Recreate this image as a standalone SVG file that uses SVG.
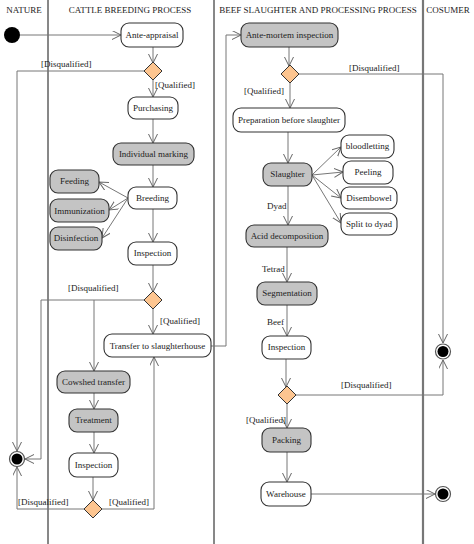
<svg xmlns="http://www.w3.org/2000/svg" width="474" height="544" viewBox="0 0 474 544">
<style>
text{font-family:"Liberation Serif","Times New Roman",serif;font-size:9px;fill:#222}
.hd{text-anchor:middle}
.n rect{stroke:#333;stroke-width:1.1;fill:#fff}
.g rect{fill:#c4c4c4}
.n text{text-anchor:middle}
.d polygon{fill:#fdc590;stroke:#333;stroke-width:1}
.c path{fill:none;stroke:#777;stroke-width:1}
.lane{stroke:#111;stroke-width:1}
</style>
<defs>
<marker id="a" markerUnits="userSpaceOnUse" markerWidth="10" markerHeight="10" refX="9" refY="4.5" orient="auto">
<path d="M0,0 L9,4.5 L0,9" fill="none" stroke="#666" stroke-width="1"/>
</marker>
</defs>
<rect width="474" height="544" fill="#fff"/>
<g id="lanes">
<line class="lane" x1="48" y1="0" x2="48" y2="544"/>
<line class="lane" x1="214" y1="0" x2="214" y2="544"/>
<line x1="423" y1="0" x2="423" y2="544" stroke="#777" stroke-width="2.2"/>
<text class="hd" x="24" y="13">NATURE</text>
<text class="hd" x="130" y="13">CATTLE BREEDING PROCESS</text>
<text class="hd" x="318" y="13">BEEF SLAUGHTER AND PROCESSING PROCESS</text>
<text class="hd" x="448" y="13">COSUMER</text>
</g>
<g id="connectors" class="c">
<path d="M20,35 H121" marker-end="url(#a)"/>
<path d="M153,47 V63" marker-end="url(#a)"/>
<path d="M153,80 V97" marker-end="url(#a)"/>
<path d="M144,71 H17 V451" marker-end="url(#a)"/>
<path d="M153,119 V143" marker-end="url(#a)"/>
<path d="M153,165 V187" marker-end="url(#a)"/>
<path d="M128,198 L99,182" marker-end="url(#a)"/>
<path d="M128,198 L109,210" marker-end="url(#a)"/>
<path d="M128,198 L102,238" marker-end="url(#a)"/>
<path d="M153,209 V242" marker-end="url(#a)"/>
<path d="M153,265 V292" marker-end="url(#a)"/>
<path d="M153,309 V334" marker-end="url(#a)"/>
<path d="M144,300 H41 V459 H25" marker-end="url(#a)"/>
<path d="M94,300 V371" marker-end="url(#a)"/>
<path d="M211,346 H226 V35 H241" marker-end="url(#a)"/>
<path d="M94,393 V409" marker-end="url(#a)"/>
<path d="M94,432 V453" marker-end="url(#a)"/>
<path d="M93,477 V500" marker-end="url(#a)"/>
<path d="M84,509 H17 V467" marker-end="url(#a)"/>
<path d="M102,509 H154 V357" marker-end="url(#a)"/>
<path d="M289,47 V66" marker-end="url(#a)"/>
<path d="M299,74 H443 V343" marker-end="url(#a)"/>
<path d="M290,83 V108" marker-end="url(#a)"/>
<path d="M288,132 V163" marker-end="url(#a)"/>
<path d="M312,175 L341,147" marker-end="url(#a)"/>
<path d="M312,175 L343,172" marker-end="url(#a)"/>
<path d="M312,175 L341,198" marker-end="url(#a)"/>
<path d="M312,175 L341,223" marker-end="url(#a)"/>
<path d="M288,186 V225" marker-end="url(#a)"/>
<path d="M287,247 V282" marker-end="url(#a)"/>
<path d="M287,305 V336" marker-end="url(#a)"/>
<path d="M286,359 V387" marker-end="url(#a)"/>
<path d="M296,395 H443 V360" marker-end="url(#a)"/>
<path d="M287,404 V428" marker-end="url(#a)"/>
<path d="M287,452 V482" marker-end="url(#a)"/>
<path d="M311,494 H435" marker-end="url(#a)"/>
</g>
<g id="labels">
<text x="41" y="67">[Disqualified]</text>
<text x="155" y="88">[Qualified]</text>
<text x="68" y="291">[Disqualified]</text>
<text x="160" y="324">[Qualified]</text>
<text x="18" y="505">[Disqualified]</text>
<text x="109" y="505">[Qualified]</text>
<text x="349" y="71">[Disqualified]</text>
<text x="244" y="94">[Qualified]</text>
<text x="267" y="209">Dyad</text>
<text x="262" y="272">Tetrad</text>
<text x="267" y="325">Beef</text>
<text x="341" y="388">[Disqualified]</text>
<text x="246" y="423">[Qualified]</text>
</g>
<g id="start"><circle cx="12" cy="35" r="8" fill="#000"/></g>
<g id="end-nature"><circle cx="17" cy="459" r="7.5" fill="#fff" stroke="#555" stroke-width="1.2"/><circle cx="17" cy="459" r="5.5" fill="#000"/></g>
<g id="end-consumer1"><circle cx="443" cy="351.5" r="7.5" fill="#fff" stroke="#555" stroke-width="1.2"/><circle cx="443" cy="351.5" r="5.5" fill="#000"/></g>
<g id="end-consumer2"><circle cx="443" cy="494" r="7.5" fill="#fff" stroke="#555" stroke-width="1.2"/><circle cx="443" cy="494" r="5.5" fill="#000"/></g>
<g id="ante-appraisal" class="n"><rect x="121" y="23" width="62" height="24" rx="8"/><text x="152" y="38">Ante-appraisal</text></g>
<g id="d1" class="d"><polygon points="153,62 162,71 153,80 144,71"/></g>
<g id="purchasing" class="n"><rect x="128" y="97" width="50" height="22" rx="8"/><text x="153" y="111">Purchasing</text></g>
<g id="individual-marking" class="n g"><rect x="113" y="143" width="81" height="22" rx="8"/><text x="153.5" y="157">Individual marking</text></g>
<g id="feeding" class="n g"><rect x="50" y="170" width="49" height="23" rx="8"/><text x="74.5" y="184">Feeding</text></g>
<g id="immunization" class="n g"><rect x="50" y="199" width="59" height="23" rx="8"/><text x="79.5" y="214">Immunization</text></g>
<g id="disinfection" class="n g"><rect x="50" y="227" width="52" height="23" rx="8"/><text x="76" y="241">Disinfection</text></g>
<g id="breeding" class="n"><rect x="128" y="187" width="49" height="22" rx="8"/><text x="152.5" y="201">Breeding</text></g>
<g id="inspection1" class="n"><rect x="128" y="242" width="49" height="23" rx="8"/><text x="152.5" y="256">Inspection</text></g>
<g id="d2" class="d"><polygon points="153,291 162,300 153,309 144,300"/></g>
<g id="transfer" class="n"><rect x="104" y="334" width="107" height="23" rx="8"/><text x="157.5" y="349">Transfer to slaughterhouse</text></g>
<g id="cowshed" class="n g"><rect x="57" y="371" width="73" height="22" rx="8"/><text x="93.5" y="385">Cowshed transfer</text></g>
<g id="treatment" class="n g"><rect x="69" y="409" width="49" height="23" rx="8"/><text x="93.5" y="423">Treatment</text></g>
<g id="inspection2" class="n"><rect x="69" y="453" width="49" height="24" rx="8"/><text x="93.5" y="468">Inspection</text></g>
<g id="d3" class="d"><polygon points="93,500 102,509 93,518 84,509"/></g>
<g id="ante-mortem" class="n g"><rect x="241" y="23" width="97" height="24" rx="8"/><text x="289.5" y="38">Ante-mortem inspection</text></g>
<g id="d4" class="d"><polygon points="290,65 299,74 290,83 281,74"/></g>
<g id="preparation" class="n"><rect x="233" y="108" width="112" height="24" rx="8"/><text x="289" y="123">Preparation before slaughter</text></g>
<g id="slaughter" class="n g"><rect x="263" y="163" width="49" height="23" rx="8"/><text x="287.5" y="177">Slaughter</text></g>
<g id="bloodletting" class="n"><rect x="341" y="135" width="53" height="23" rx="8"/><text x="367.5" y="149">bloodletting</text></g>
<g id="peeling" class="n"><rect x="343" y="161" width="50" height="23" rx="8"/><text x="368" y="175">Peeling</text></g>
<g id="disembowel" class="n"><rect x="341" y="187" width="56" height="22" rx="8"/><text x="369" y="201">Disembowel</text></g>
<g id="split" class="n"><rect x="341" y="213" width="56" height="22" rx="8"/><text x="369" y="227">Split to dyad</text></g>
<g id="acid" class="n g"><rect x="246" y="225" width="82" height="22" rx="8"/><text x="287" y="239">Acid decomposition</text></g>
<g id="segmentation" class="n g"><rect x="257" y="282" width="60" height="23" rx="8"/><text x="287" y="296">Segmentation</text></g>
<g id="inspection3" class="n"><rect x="262" y="336" width="49" height="23" rx="8"/><text x="286.5" y="350">Inspection</text></g>
<g id="d5" class="d"><polygon points="287,386 296,395 287,404 278,395"/></g>
<g id="packing" class="n g"><rect x="262" y="428" width="49" height="24" rx="8"/><text x="286.5" y="443">Packing</text></g>
<g id="warehouse" class="n"><rect x="261" y="482" width="50" height="24" rx="8"/><text x="286" y="497">Warehouse</text></g>
</svg>
